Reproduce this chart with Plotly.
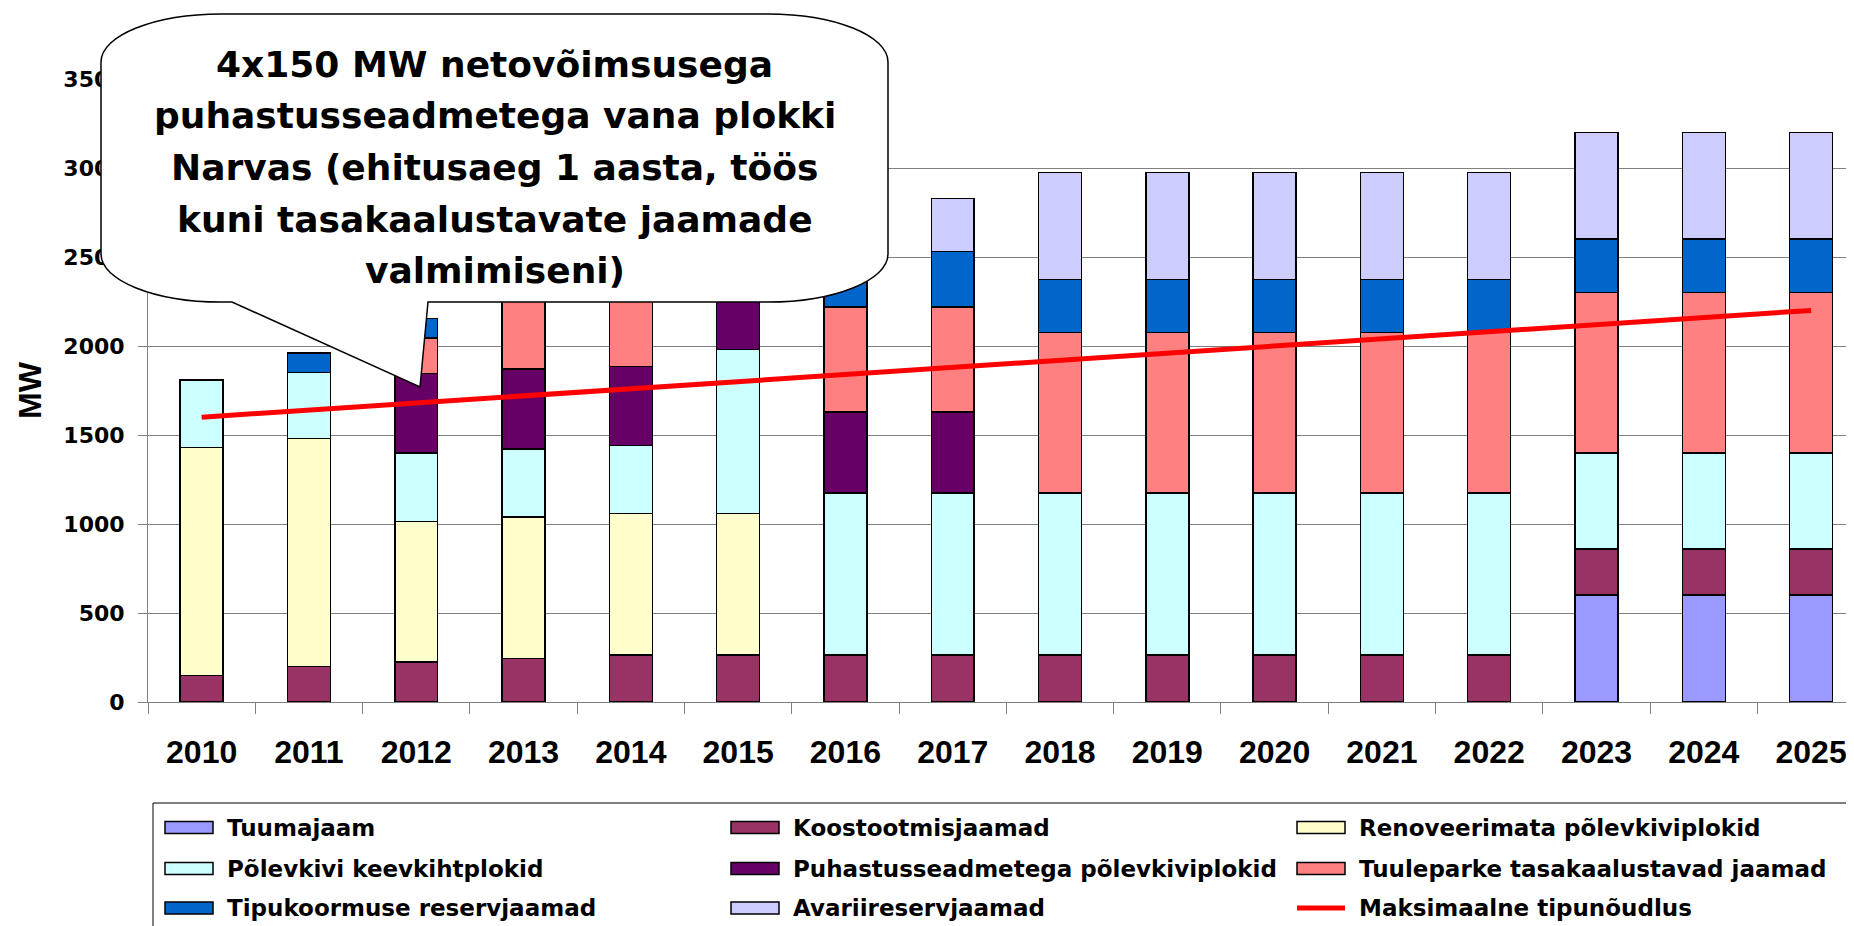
import plotly.graph_objects as go

# categories
years = ["2010", "2011", "2012", "2013", "2014", "2015", "2016", "2017",
         "2018", "2019", "2020", "2021", "2022", "2023", "2024", "2025"]

# stacked capacity (MW), bottom to top; None = no segment
tuumajaam = [None, None, None, None, None, None, None, None,
             None, None, None, None, None, 600, 600, 600]
koostootmis = [150, 200, 225, 245, 265, 265, 265, 265,
               265, 265, 265, 265, 265, 260, 260, 260]
renoveerimata = [1280, 1280, 790, 795, 795, 795, None, None,
                 None, None, None, None, None, None, None, None]
keevkiht = [380, 370, 385, 380, 380, 920, 910, 910,
            910, 910, 910, 910, 910, 540, 540, 540]
puhastus = [None, None, 445, 450, 445, 450, 455, 455,
            None, None, None, None, None, None, None, None]
tuulepark = [None, None, 200, 590, 590, 590, 590, 590,
             900, 900, 900, 900, 900, 900, 900, 900]
tipukoormus = [None, 110, 110, 110, 110, 110, 310, 310,
               300, 300, 300, 300, 300, 300, 300, 300]
avarii = [None, None, None, None, None, None, 300, 300,
          600, 600, 600, 600, 600, 600, 600, 600]

# peak demand line
tipunoudlus = [1600, 1640, 1680, 1720, 1760, 1800, 1840, 1880,
               1920, 1960, 2000, 2040, 2080, 2120, 2160, 2200]

series = [
    ("Tuumajaam", tuumajaam, "#9999FF"),
    ("Koostootmisjaamad", koostootmis, "#993366"),
    ("Renoveerimata põlevkiviplokid", renoveerimata, "#FFFFCC"),
    ("Põlevkivi keevkihtplokid", keevkiht, "#CCFFFF"),
    ("Puhastusseadmetega põlevkiviplokid", puhastus, "#660066"),
    ("Tuuleparke tasakaalustavad jaamad", tuulepark, "#FF8080"),
    ("Tipukoormuse reservjaamad", tipukoormus, "#0066CC"),
    ("Avariireservjaamad", avarii, "#CCCCFF"),
]
line_name = "Maksimaalne tipunõudlus"
line_color = "#FF0000"

callout_lines = [
    "4x150 MW netovõimsusega",
    "puhastusseadmetega vana plokki",
    "Narvas (ehitusaeg 1 aasta, töös",
    "kuni tasakaalustavate jaamade",
    "valmimiseni)",
]

# geometry: the page body adds an 8px offset, so the figure is 8px smaller
OFF = 8
W, H = 1854 - OFF, 926 - OFF
L, R, T, B = 140, 0, 71, 224


def px(x):
    # screen x -> paper x
    return (x - OFF - L) / (W - L - R)


def py(y):
    # screen y -> paper y
    return (H - B - (y - OFF)) / (H - T - B)


fig = go.Figure()

for name, vals, color in series:
    fig.add_trace(go.Bar(
        x=years, y=vals, name=name,
        marker=dict(color=color, line=dict(color="black", width=1.5)),
        showlegend=False,
    ))

fig.add_trace(go.Scatter(
    x=years, y=tipunoudlus, name=line_name, mode="lines",
    line=dict(color=line_color, width=5), showlegend=False,
))

shapes = []
annotations = []

# callout bubble (rounded rectangle with a wedge pointing at 2012)
x0, x1, y0, y1 = 101, 888, 14, 302
rx, ry, k = 120, 48, 0.5523
tip = (420, 387)
base_l, base_r = 232, 428
pts = [
    ("M", [(x0 + rx, y0)]),
    ("L", [(x1 - rx, y0)]),
    ("C", [(x1 - rx + k * rx, y0), (x1, y0 + ry - k * ry), (x1, y0 + ry)]),
    ("L", [(x1, y1 - ry)]),
    ("C", [(x1, y1 - ry + k * ry), (x1 - rx + k * rx, y1), (x1 - rx, y1)]),
    ("L", [(base_r, y1)]),
    ("L", [tip]),
    ("L", [(base_l, y1)]),
    ("L", [(x0 + rx, y1)]),
    ("C", [(x0 + rx - k * rx, y1), (x0, y1 - ry + k * ry), (x0, y1 - ry)]),
    ("L", [(x0, y0 + ry)]),
    ("C", [(x0, y0 + ry - k * ry), (x0 + rx - k * rx, y0), (x0 + rx, y0)]),
]
path = ""
for cmd, coords in pts:
    path += cmd + " ".join(f"{px(a):.5f},{py(b):.5f}" for a, b in coords) + " "
path += "Z"
shapes.append(dict(type="path", path=path, xref="paper", yref="paper",
                   fillcolor="white", line=dict(color="black", width=1.5),
                   layer="above"))

baselines = [77, 128, 180, 232, 283]
for txt, bl in zip(callout_lines, baselines):
    annotations.append(dict(
        text=txt, x=px((x0 + x1) / 2), y=py(bl - 12.5), xref="paper", yref="paper",
        xanchor="center", yanchor="middle", showarrow=False,
        font=dict(family="DejaVu Sans", size=36, color="black", weight="bold"),
    ))

# legend box, drawn by hand to get the wide swatches
shapes.append(dict(type="rect", xref="paper", yref="paper",
                   x0=px(153), x1=px(1880), y0=py(803), y1=py(960),
                   line=dict(color="black", width=1), fillcolor="white",
                   layer="above"))
col_x = [165, 731, 1297]
row_y = [827.5, 868.5, 908]
entries = [(n, c) for n, _, c in series] + [(line_name, line_color)]
for i, (name, color) in enumerate(entries):
    cx, cy = col_x[i % 3], row_y[i // 3]
    if name == line_name:
        shapes.append(dict(type="line", xref="paper", yref="paper",
                           x0=px(cx), x1=px(cx + 48), y0=py(cy), y1=py(cy),
                           line=dict(color=color, width=5), layer="above"))
    else:
        shapes.append(dict(type="rect", xref="paper", yref="paper",
                           x0=px(cx), x1=px(cx + 48), y0=py(cy - 6), y1=py(cy + 6),
                           fillcolor=color, line=dict(color="black", width=1.5),
                           layer="above"))
    annotations.append(dict(
        text=name, x=px(cx + 60), y=py(cy), xref="paper", yref="paper",
        xanchor="left", yanchor="middle", showarrow=False,
        font=dict(family="DejaVu Sans", size=23, color="black", weight="bold"),
    ))

fig.update_layout(
    width=W, height=H,
    margin=dict(l=L, r=R, t=T, b=B),
    paper_bgcolor="white", plot_bgcolor="white",
    barmode="stack", bargap=0.6,
    showlegend=False,
    shapes=shapes, annotations=annotations,
    xaxis=dict(
        type="category", range=[-0.5, 15.4],
        showgrid=False, showline=True, linecolor="#808080", linewidth=1,
        ticks="outside", tickson="boundaries", ticklen=11, tickcolor="#808080",
        ticklabelstandoff=22,
        tickfont=dict(family="Liberation Sans", size=32, color="black", weight="bold"),
    ),
    yaxis=dict(
        range=[0, 3500], dtick=500, tick0=0,
        showgrid=True, gridcolor="#808080", gridwidth=1, zeroline=False,
        showline=True, linecolor="#808080", linewidth=1,
        ticks="outside", ticklen=9, tickcolor="#808080",
        ticklabelstandoff=9,
        tickfont=dict(family="DejaVu Sans", size=22, color="black", weight="bold"),
        title=dict(text="MW", standoff=12,
                   font=dict(family="Liberation Sans", size=32, color="black", weight="bold")),
    ),
)

fig.write_html("out.html")
